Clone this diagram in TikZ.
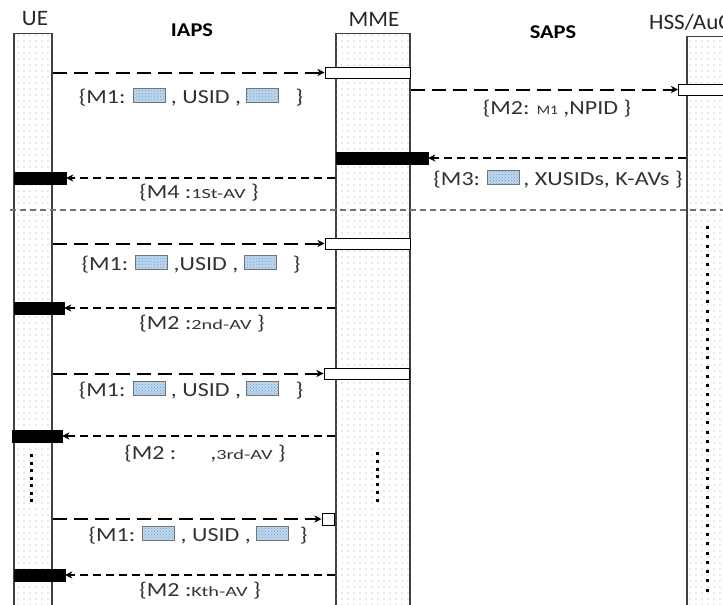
\documentclass[tikz,border=0pt]{standalone}
\usepackage{fontspec}
\setmainfont{Carlito}
\newfontfamily\msgf[FakeStretch=1.2]{Carlito}
\newfontfamily\smf[FakeStretch=1.45]{Carlito}
\newfontfamily\headf[FakeStretch=1.05]{Carlito}
\newfontfamily\phasef[FakeStretch=1.15]{Carlito}
\usetikzlibrary{patterns,patterns.meta,arrows.meta}
\definecolor{dotc}{RGB}{135,160,190}
\definecolor{txt}{RGB}{50,50,50}
\definecolor{hbfill}{RGB}{190,215,240}
\definecolor{hbdot}{RGB}{120,160,200}
\tikzdeclarepattern{
  name=ldots,
  type=uncolored,
  bottom left={(-1pt,-1pt)},
  top right={(5pt,5pt)},
  tile size={(6pt,6pt)},
  code={\fill (0pt,0pt) circle[radius=0.65pt];}
}
\newcommand{\hb}{\tikz[x=1pt,y=1pt,baseline=-1pt]{\path[fill=hbfill,postaction={pattern=crosshatch dots,pattern color=hbdot}] (0,0) rectangle (32,14); \draw[black!55,line width=0.8pt] (0,0) rectangle (32,14);}}
\newcommand{\sm}[1]{{\smf\fontsize{14}{16}\selectfont #1}}
\newcommand{\smm}[1]{{\fontsize{13}{15}\selectfont #1}}
\tikzset{
  life/.style={draw=black!75,line width=1.1pt,fill=white,postaction={pattern=ldots,pattern color=dotc},minimum height=620pt,anchor=north,inner sep=0pt},
  actw/.style={draw=black,line width=1pt,fill=white,inner sep=0pt},
  actb/.style={draw=black,fill=black,inner sep=0pt},
  req/.style={line width=2pt,dash pattern=on 14pt off 7pt,-{Stealth[length=7pt,width=7pt,inset=2pt]}},
  rsp/.style={line width=2pt,dash pattern=on 8pt off 5pt,-{Stealth[length=7pt,width=7pt,inset=2pt]}},
  msg/.style={text=txt,font=\msgf\fontsize{20}{22}\selectfont,inner sep=0pt},
  head/.style={text=black!85,font=\headf\fontsize{22}{24}\selectfont,inner sep=0pt},
  phase/.style={text=black,font=\phasef\fontsize{19.5}{22}\selectfont\bfseries,inner sep=0pt},
  vdot/.style={fill=black}
}
\begin{document}
\begin{tikzpicture}[x=1pt,y=-1pt]
\useasboundingbox (0,0) rectangle (723,605);
\clip (0,0) rectangle (723,605);
% lifelines
\node[life,minimum width=38pt] (ue) at (33,33) {};
\node[life,minimum width=74pt] (mme) at (373,33) {};
\node[life,minimum width=60pt] (hss) at (717,36) {};
\node[head] (uelab) at (35,19) {UE};
\node[head] (mmelab) at (374,19) {MME};
\node[head,anchor=west] (hsslab) at (649,22) {HSS/AuC};
\node[phase] (iaps) at (192,30) {IAPS};
\node[phase] (saps) at (553,32) {SAPS};
% separator
\draw[black!55,line width=1.5pt,dash pattern=on 6pt off 4pt] (10,210) -- (723,210);
% activation boxes
\node[actw,minimum width=85pt,minimum height=11pt] (a1) at (367.5,72.5) {};
\node[actw,minimum width=60pt,minimum height=11pt,anchor=west] (a2) at (678,89.5) {};
\node[actb,minimum width=92pt,minimum height=12pt] (b3) at (382,158) {};
\node[actb,minimum width=52pt,minimum height=12pt] (b4) at (40,178) {};
\node[actw,minimum width=85pt,minimum height=11pt] (a6) at (367.5,243.5) {};
\node[actb,minimum width=50pt,minimum height=12pt] (b7) at (39,308) {};
\node[actw,minimum width=85pt,minimum height=11pt] (a8) at (366.5,373.5) {};
\node[actb,minimum width=50pt,minimum height=12pt] (b9) at (37,436) {};
\node[actw,minimum width=12pt,minimum height=12pt] (a11) at (328,519) {};
\node[actb,minimum width=51pt,minimum height=12pt] (b12) at (39.5,575) {};
% messages
\draw[req] (ue.east |- a1.west) -- (a1.west);
\draw[req] (mme.east |- a2.west) -- (a2.west);
\draw[rsp] (hss.west |- b3.east) -- (b3.east);
\draw[rsp] (mme.west |- b4.east) -- (b4.east);
\draw[req] (ue.east |- a6.west) -- (a6.west);
\draw[rsp] (mme.west |- b7.east) -- (b7.east);
\draw[req] (ue.east |- a8.west) -- (a8.west);
\draw[rsp] (mme.west |- b9.east) -- (b9.east);
\draw[req] (ue.east |- a11.west) -- (a11.west);
\draw[rsp] (mme.west |- b12.east) -- (b12.east);
% labels
\node[msg] (l1) at (191,97) {\{M1: \hb\ , USID , \hb\ \ \ \}};
\node[msg] (l2) at (557,109) {\{M2: \smm{M1} ,NPID \}};
\node[msg] (l3) at (558,179) {\{M3: \hb\,, XUSIDs, K-AVs \}};
\node[msg] (l4) at (199,193) {\{M4 :\sm{1St-AV} \}};
\node[msg] (l6) at (191,264) {\{M1: \hb\ ,USID , \hb\ \ \ \}};
\node[msg] (l7) at (202,324) {\{M2 :\sm{2nd-AV} \}};
\node[msg] (l8) at (191,390) {\{M1: \hb\ , USID , \hb\ \ \ \}};
\node[msg] (l9) at (205,454) {\{M2 :\hspace{34pt},\sm{3rd-AV} \}};
\node[msg] (l11) at (198,535) {\{M1: \hb\ , USID , \hb\ \ \}};
\node[msg] (l12) at (200,591) {\{M2 :\sm{Kth-AV} \}};
% continuation dots
\foreach \i in {0,...,6} {\fill[vdot] (29.5,454+7.5*\i) rectangle ++(3,3);}
\foreach \i in {0,...,6} {\fill[vdot] (375.5,452+7.8*\i) rectangle ++(3,3);}
\foreach \i in {0,...,39} {\fill[vdot] (705.5,226+9.3*\i) rectangle ++(3,3);}
\end{tikzpicture}
\end{document}
